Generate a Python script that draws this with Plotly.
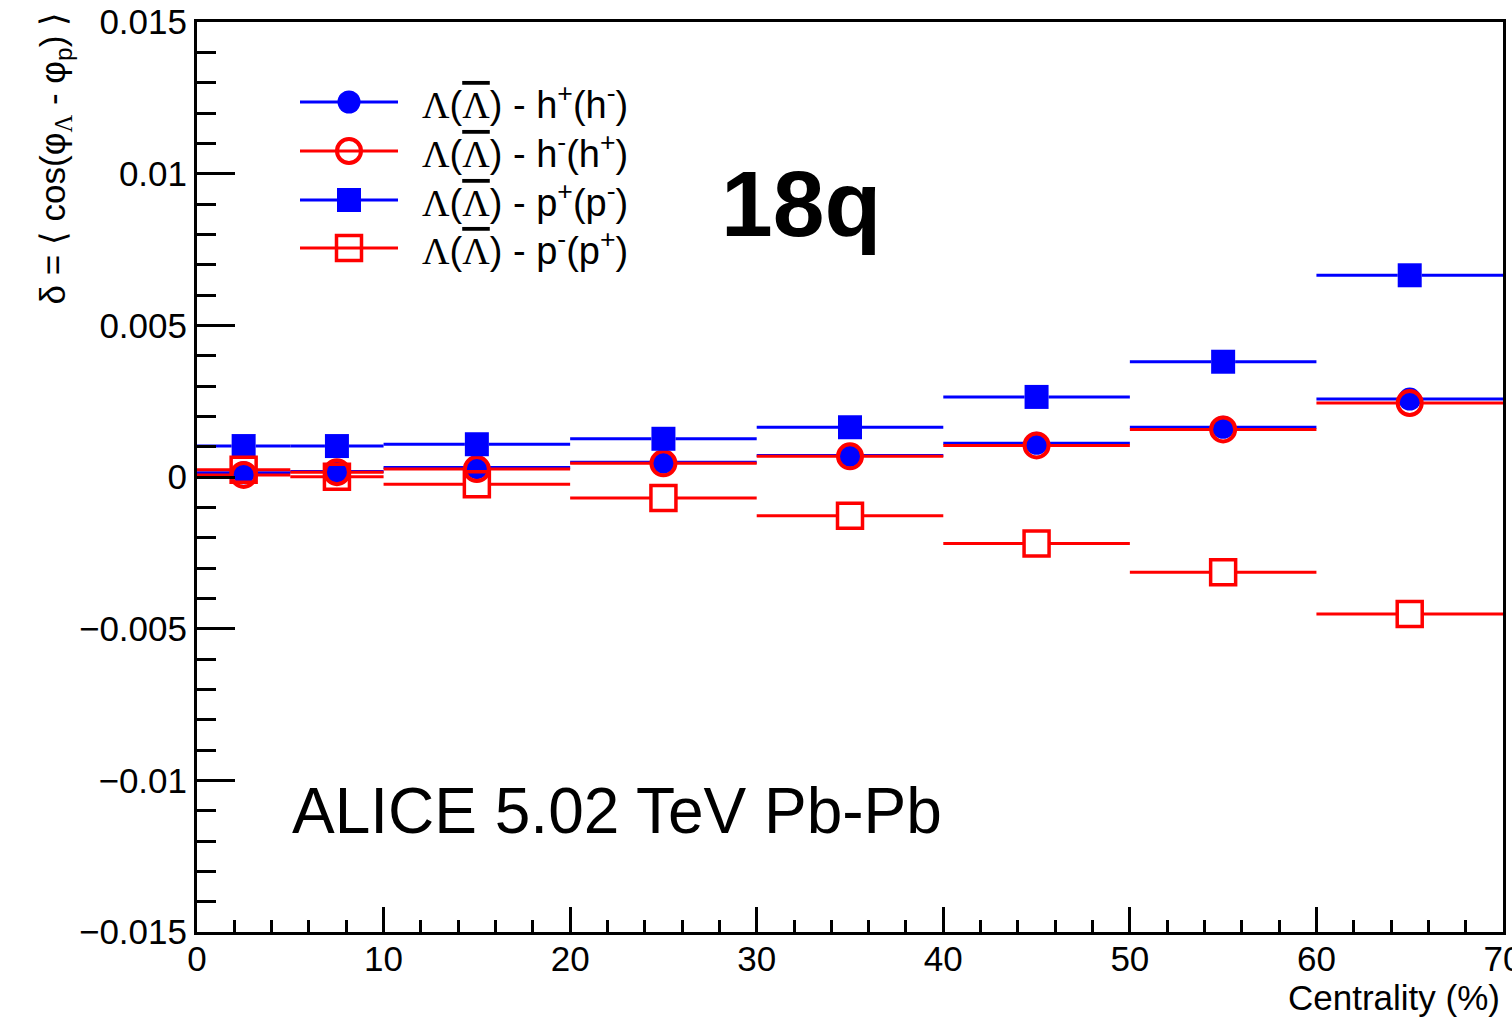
import plotly.graph_objects as go

# ---------------- data ----------------
bin_edges = [0, 5, 10, 20, 30, 40, 50, 60, 70]
h_plus = [0.00014, 0.00018, 0.00031, 0.00049, 0.00071, 0.00111, 0.00164, 0.00257]
h_minus = [0.00007, 0.00016, 0.00026, 0.00045, 0.00068, 0.00104, 0.00157, 0.00244]
p_plus = [0.00102, 0.00102, 0.00108, 0.00126, 0.00164, 0.00264, 0.00380, 0.00665]
p_minus = [0.00024, 0.00001, -0.00024, -0.00069, -0.00128, -0.00219, -0.00314, -0.00452]

y_tickvals = [-0.015, -0.01, -0.005, 0, 0.005, 0.01, 0.015]
y_ticktext = ["\u22120.015", "\u22120.01", "\u22120.005", "0", "0.005", "0.01", "0.015"]
x_tickvals = [0, 10, 20, 30, 40, 50, 60, 70]
x_ticktext = ["0", "10", "20", "30", "40", "50", "60", "70"]

LAM = '<span style="font-family:Liberation Serif">\u039b</span>'
LAMBAR = '<span style="font-family:Liberation Serif;text-decoration:overline">\u039b</span>'
labels = [
    f"{LAM}({LAMBAR}) - h<sup>+</sup>(h<sup>-</sup>)",
    f"{LAM}({LAMBAR}) - h<sup>-</sup>(h<sup>+</sup>)",
    f"{LAM}({LAMBAR}) - p<sup>+</sup>(p<sup>-</sup>)",
    f"{LAM}({LAMBAR}) - p<sup>-</sup>(p<sup>+</sup>)",
]

BLUE = "#0000ff"
RED = "#ff0000"
series = [
    (h_plus, BLUE, "circle", 23, 0),
    (h_minus, RED, "circle-open", 24, 4),
    (p_plus, BLUE, "square", 24, 0),
    (p_minus, RED, "square-open", 25, 3.5),
]

W, H = 1512, 1021
ML, MR, MT, MB = 197, 9, 22, 89
PW = W - ML - MR
PH = H - MT - MB

centers = [(bin_edges[i] + bin_edges[i + 1]) / 2 for i in range(len(bin_edges) - 1)]
gap = 12 / (PW / (bin_edges[-1] - bin_edges[0]))

fig = go.Figure()
for vals, col, sym, size, lw in series:
    xs, ys = [], []
    for i, v in enumerate(vals):
        lo, hi, c = bin_edges[i], bin_edges[i + 1], centers[i]
        xs += [lo, c - gap, None, c + gap, hi, None]
        ys += [v, v, None, v, v, None]
    fig.add_trace(go.Scatter(x=xs, y=ys, mode="lines", line=dict(color=col, width=3),
                             showlegend=False, hoverinfo="skip"))
    fig.add_trace(go.Scatter(x=centers, y=vals, mode="markers", showlegend=False,
                             marker=dict(symbol=sym, size=size, color=col,
                                         line=dict(color=col, width=lw))))

# ---------------- manual legend (overlay axes in plot fraction) ----------------
def px2fx(px):
    return (px - ML) / PW

def py2fy(py):
    return (MT + PH - py) / PH

leg_rows = [102, 151, 200, 248]
for (vals, col, sym, size, lw), row, lab in zip(series, leg_rows, labels):
    fy = py2fy(row)
    fig.add_trace(go.Scatter(x=[px2fx(300), px2fx(398)], y=[fy, fy], mode="lines",
                             line=dict(color=col, width=3), xaxis="x2", yaxis="y2",
                             showlegend=False, hoverinfo="skip"))
    fig.add_trace(go.Scatter(x=[px2fx(349)], y=[fy], mode="markers", xaxis="x2", yaxis="y2",
                             showlegend=False, hoverinfo="skip",
                             marker=dict(symbol=sym, size=size, color=col,
                                         line=dict(color=col, width=lw))))
    fig.add_annotation(x=px2fx(420), y=fy, xref="paper", yref="paper", text=lab,
                       showarrow=False, xanchor="left", yanchor="middle",
                       font=dict(size=38, color="black"))

fig.add_annotation(x=px2fx(719), y=py2fy(204), xref="paper", yref="paper", text="<b>18q</b>",
                   showarrow=False, xanchor="left", yanchor="middle",
                   font=dict(size=93, color="black", family="Liberation Sans"))
fig.add_annotation(x=px2fx(290), y=py2fy(811), xref="paper", yref="paper",
                   text="ALICE 5.02 TeV Pb-Pb",
                   showarrow=False, xanchor="left", yanchor="middle",
                   font=dict(size=64, color="black"))
fig.add_annotation(x=px2fx(1502), y=py2fy(997), xref="paper", yref="paper", text="Centrality (%)",
                   showarrow=False, xanchor="right", yanchor="middle",
                   font=dict(size=35, color="black"))
fig.add_annotation(x=px2fx(54), y=py2fy(10), xref="paper", yref="paper",
                   text="\u03b4 = \u27e8 cos(\u03c6<sub>" + LAM + "</sub> - \u03c6<sub>p</sub>) \u27e9",
                   textangle=-90, showarrow=False, xanchor="center", yanchor="top",
                   font=dict(size=35, color="black"))

axis_common = dict(showgrid=False, zeroline=False, showline=True, linecolor="black",
                   linewidth=3, mirror=True, ticks="inside", tickcolor="black",
                   tickwidth=3, tickfont=dict(size=35, color="black"), automargin=False,
                   ticklabeloverflow="allow")
fig.update_layout(
    width=W, height=H,
    margin=dict(l=ML, r=MR, t=MT, b=MB, autoexpand=False),
    paper_bgcolor="white", plot_bgcolor="white",
    font=dict(family="Liberation Sans", color="black"),
    xaxis=dict(range=[bin_edges[0], bin_edges[-1]], tickvals=x_tickvals, ticktext=x_ticktext,
               ticklen=25, ticklabelstandoff=-6,
               minor=dict(dtick=2, ticklen=12, tickwidth=3, tickcolor="black", ticks="inside"),
               **axis_common),
    yaxis=dict(range=[-0.015, 0.015], tickvals=y_tickvals, ticktext=y_ticktext,
               ticklen=38,
               minor=dict(dtick=0.001, ticklen=19, tickwidth=3, tickcolor="black", ticks="inside"),
               **axis_common),
    xaxis2=dict(overlaying="x", range=[0, 1], visible=False, fixedrange=True),
    yaxis2=dict(overlaying="y", range=[0, 1], visible=False, fixedrange=True),
    showlegend=False,
)

fig.write_html("out.html")
